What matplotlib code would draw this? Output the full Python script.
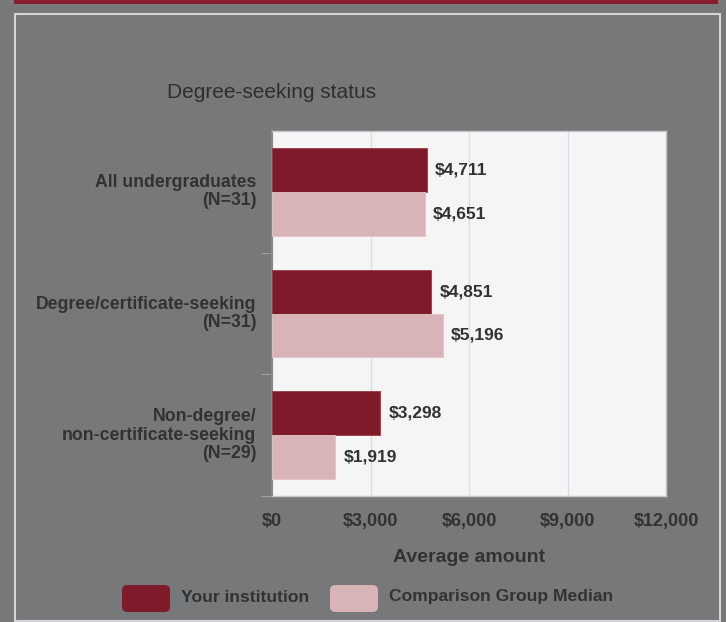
import matplotlib
matplotlib.use('Agg')
import matplotlib.pyplot as plt
import matplotlib.transforms as mtransforms
from matplotlib.patches import Rectangle, FancyBboxPatch
from matplotlib.ticker import FuncFormatter

# data
categories = ['All undergraduates\n(N=31)',
              'Degree/certificate-seeking\n(N=31)',
              'Non-degree/\nnon-certificate-seeking\n(N=29)']
your_institution = [4711, 4851, 3298]
comparison_median = [4651, 5196, 1919]
x_ticks = [0, 3000, 6000, 9000, 12000]
series_names = ['Your institution', 'Comparison Group Median']

dark_red = '#7f1a2a'
light_pink = '#d8b3b8'
bg_gray = '#77787a'
text_col = '#323232'

plt.rcParams['font.family'] = ['Liberation Sans', 'DejaVu Sans']

fig = plt.figure(figsize=(7.26, 6.22), dpi=100)
fig.patch.set_facecolor(bg_gray)

W, H = 726.0, 622.0

# top red strip and inner frame
fig.add_artist(Rectangle((14 / W, 1 - 4 / H), 704 / W, 4 / H, transform=fig.transFigure,
                         facecolor='#8a1c2c', edgecolor='none'))
fig.add_artist(Rectangle((15 / W, 1 - 621 / H), 705 / W, 607 / H, transform=fig.transFigure,
                         facecolor='none', edgecolor='#d4d4d4', linewidth=1.5))

ax = fig.add_axes([272 / W, 1 - 496 / H, 394 / W, 365 / H])
ax.set_facecolor('#f5f5f5')

pos = list(range(len(categories)))
bh = 0.36
ax.barh([p - bh / 2 for p in pos], your_institution, height=bh, color=dark_red,
        edgecolor='#9a3a48', linewidth=0.6, zorder=3)
ax.barh([p + bh / 2 for p in pos], comparison_median, height=bh, color=light_pink,
        edgecolor='#e0c4c8', linewidth=0.6, zorder=3)

for p, v in zip(pos, your_institution):
    ax.annotate(f'${v:,}', (v, p - bh / 2), xytext=(6, 0), textcoords='offset points',
                ha='left', va='center', fontsize=12.5, fontweight='bold', color=text_col)
for p, v in zip(pos, comparison_median):
    ax.annotate(f'${v:,}', (v, p + bh / 2), xytext=(6, 0), textcoords='offset points',
                ha='left', va='center', fontsize=12.5, fontweight='bold', color=text_col)

ax.set_xlim(0, 12000)
ax.set_ylim(len(categories) - 0.5, -0.5)
ax.set_xticks(x_ticks)
ax.xaxis.set_major_formatter(FuncFormatter(lambda v, _: f'${v:,.0f}'))
ax.tick_params(axis='x', length=0, pad=12, labelsize=13, labelcolor=text_col)
for lbl in ax.get_xticklabels():
    lbl.set_fontweight('bold')
ax.grid(axis='x', color='#d6dcec', linewidth=0.9, zorder=0)

ax.set_yticks([p + 0.5 for p in pos])
ax.set_yticklabels([])
ax.tick_params(axis='y', length=8, width=0.8, color='#a0a0a0', direction='out')

for side in ['top', 'right', 'bottom']:
    ax.spines[side].set_color('#c8c8c8')
    ax.spines[side].set_linewidth(1.0)
ax.spines['left'].set_color('#8a8a8a')
ax.spines['left'].set_linewidth(1.5)

trans = mtransforms.blended_transform_factory(ax.transAxes, ax.transData)
for p, c in zip(pos, categories):
    ax.text(-0.04, p, c, transform=trans, ha='right', va='center', fontsize=12.7,
            fontweight='bold', color=text_col, linespacing=1.1)

ax.set_xlabel('Average amount', fontsize=14, fontweight='bold', color=text_col, labelpad=14)

fig.text(272 / W, 1 - 92 / H, 'Degree-seeking status', ha='center', va='center',
         fontsize=15, color='#2e2e2e')

# legend
for i, (name, col) in enumerate(zip(series_names, [dark_red, light_pink])):
    x0 = [122, 330][i]
    fig.add_artist(FancyBboxPatch((x0 / W, 1 - 612 / H), 48 / W, 27 / H,
                                  boxstyle='round,pad=0,rounding_size=0.008',
                                  transform=fig.transFigure, facecolor=col, edgecolor='none'))
    fig.text((x0 + 59) / W, 1 - 597 / H, name, ha='left', va='center', fontsize=12.6,
             fontweight='bold', color=text_col)

fig.savefig('out.png', dpi=100, facecolor=fig.get_facecolor())
